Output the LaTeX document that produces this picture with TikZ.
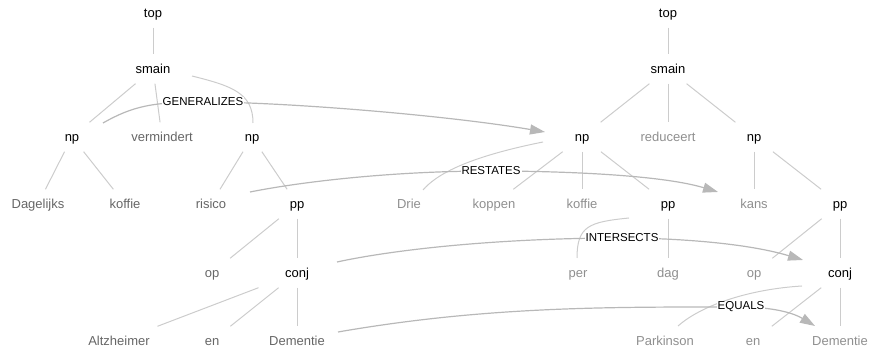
\documentclass[tikz,border=0pt]{standalone}
\usepackage{fontspec}
\setmainfont{Liberation Sans}
\usetikzlibrary{arrows.meta}

\definecolor{wordleft}{HTML}{666666}
\definecolor{wordright}{HTML}{8F8F8F}
\definecolor{treegray}{HTML}{CCCCCC}
\definecolor{relgray}{HTML}{B8B8B8}

\tikzset{
	cat/.style={text=black,font=\fontsize{13}{15}\selectfont,
		text height=10.8pt,text depth=1.2pt,inner ysep=8.5pt,inner xsep=0pt,minimum width=84pt},
	wl/.style={cat,text=wordleft},
	wr/.style={cat,text=wordright},
	treeline/.style={draw=treegray,line width=1pt},
	rel/.style={draw=relgray,line width=1.2pt,-{Triangle[length=15pt,width=10pt]}},
	rellabel/.style={fill=white,inner sep=1pt,text=black,font=\fontsize{11.5}{13}\selectfont}
}

\begin{document}
\begin{tikzpicture}[x=1pt,y=1pt]
	\useasboundingbox (0,0) rectangle (869,352);
	
	% left tree
	\node[cat] (topL) at (153,339) {top};
	\node[cat] (smainL) at (153,283) {smain};
	\node[cat] (np1) at (72,215) {np};
	\node[wl] (verm) at (162,215) {vermindert};
	\node[cat] (np2) at (252,215) {np};
	\node[wl] (dagelijks) at (38,148) {Dagelijks};
	\node[wl] (koffieL) at (125,148) {koffie};
	\node[wl] (risico) at (211,148) {risico};
	\node[cat] (ppL) at (297,148) {pp};
	\node[wl] (opL) at (212,79) {op};
	\node[cat] (conjL) at (297,79) {conj};
	\node[wl] (altz) at (119,11) {Altzheimer};
	\node[wl] (enL) at (212,11) {en};
	\node[wl] (demL) at (297,11) {Dementie};
	
	% right tree
	\node[cat] (topR) at (668,339) {top};
	\node[cat] (smainR) at (668,283) {smain};
	\node[cat] (np3) at (582,215) {np};
	\node[wr] (reduceert) at (668,215) {reduceert};
	\node[cat] (np4) at (754,215) {np};
	\node[wr] (drie) at (409,148) {Drie};
	\node[wr] (koppen) at (494,148) {koppen};
	\node[wr] (koffieR) at (582,148) {koffie};
	\node[cat] (ppR) at (668,148) {pp};
	\node[wr] (kans) at (754,148) {kans};
	\node[cat] (pp2) at (840,148) {pp};
	\node[wr] (per) at (578,79) {per};
	\node[wr] (dag) at (668,79) {dag};
	\node[wr] (opR) at (754,79) {op};
	\node[cat] (conjR) at (840,79) {conj};
	\node[wr] (park) at (665,11) {Parkinson};
	\node[wr] (enR) at (753,11) {en};
	\node[wr] (demR) at (840,11) {Dementie};
	
	\foreach \a/\b in {topL/smainL,smainL/np1,smainL/verm,np1/dagelijks,np1/koffieL,
		np2/risico,np2/ppL,ppL/opL,ppL/conjL,conjL/altz,conjL/enL,conjL/demL,
		topR/smainR,smainR/np3,smainR/reduceert,smainR/np4,np3/koppen,np3/koffieR,np3/ppR,
		np4/kans,np4/pp2,ppR/dag,pp2/opR,pp2/conjR,conjR/enR,conjR/demR}
	\draw[treeline] (\a) -- (\b);
	
	% crossing branches
	\draw[treeline] ([shift={(39,-7)}]smainL.center) .. controls +(40,-10) and +(0,30) .. ([shift={(1,14)}]np2.center);
	\draw[treeline] ([shift={(-39,-5)}]np3.center) .. controls +(-80,-16) and +(12,14) .. ([shift={(14,14)}]drie.center);
	\draw[treeline] ([shift={(-39,-14)}]ppR.center) .. controls +(-40,-4) and +(0,32) .. ([shift={(-1,15)}]per.center);
	\draw[treeline] ([shift={(-38,-13)}]conjR.center) .. controls +(-50,-3) and +(25,22) .. ([shift={(13,15)}]park.center);
	
	% relations
	\coordinate (genM) at (203,250);
	\coordinate (resM) at (491,181);
	\coordinate (intM) at (622,114);
	\coordinate (equM) at (741,45);
	
	\draw[rel] ([shift={(31,14)}]np1.center) .. controls +(30,17) and +(-50,0) .. (genM)
		.. controls +(80,0) and +(-100,17) .. ([shift={(-37,5)}]np3.center);
	\draw[rel] ([shift={(39,12)}]risico.center) .. controls +(50,10) and +(-100,0) .. (resM)
		.. controls +(60,0) and +(-60,18) .. ([shift={(-36,12)}]kans.center);
	\draw[rel] ([shift={(40,11)}]conjL.center) .. controls +(60,13) and +(-120,0) .. (intM)
		.. controls +(45,0) and +(-60,18) .. ([shift={(-37,13)}]conjR.center);
	\draw[rel] ([shift={(41,9)}]demL.center) .. controls +(150,26) and +(-130,0) .. (equM)
		.. controls +(25,0) and +(-25,15) .. ([shift={(-25,15)}]demR.center);
	
	\node[rellabel] (gen) at (genM) {GENERALIZES};
	\node[rellabel] (res) at (resM) {RESTATES};
	\node[rellabel] (int) at (intM) {INTERSECTS};
	\node[rellabel] (equ) at (equM) {EQUALS};
\end{tikzpicture}
\end{document}
